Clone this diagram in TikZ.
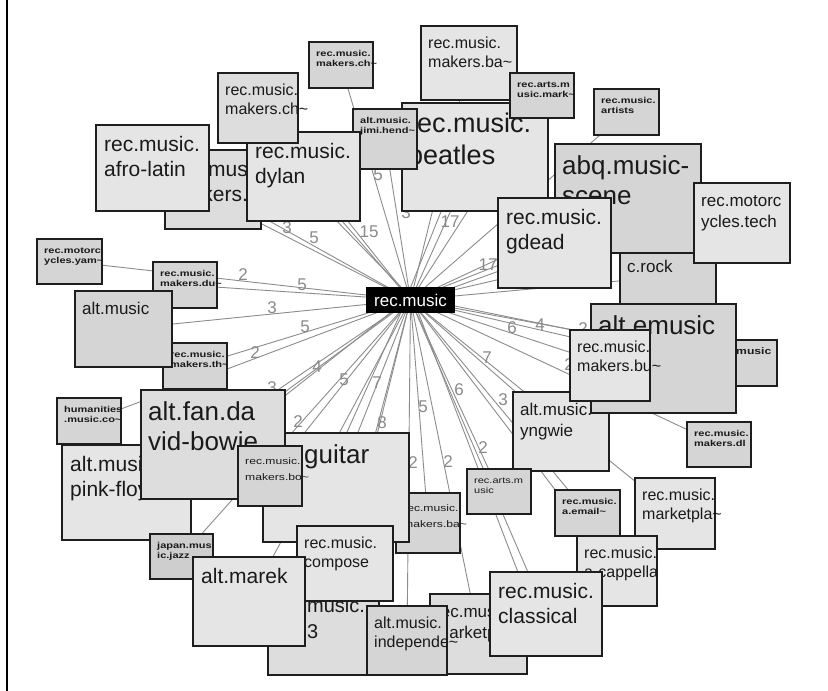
\documentclass[tikz,border=0pt]{standalone}
\usepackage{fontspec}
\setmainfont{Liberation Sans}
\usepackage{graphicx}
\pgfdeclarelayer{bg}
\pgfsetlayers{bg,main}

\definecolor{g1}{HTML}{E5E5E5}
\definecolor{g2}{HTML}{DDDDDD}
\definecolor{g3}{HTML}{D5D5D5}
\definecolor{g4}{HTML}{CECECE}
\definecolor{boxline}{HTML}{1E1E1E}
\definecolor{txt}{HTML}{1A1A1A}
\definecolor{edgec}{HTML}{8C8C8C}
\definecolor{lblc}{HTML}{8A8A8A}

% multi-line labels, first row baseline is the node baseline
\newcommand\lines[1]{\begin{tabular}[t]{@{}l@{}}#1\end{tabular}}
\newcommand\slines[1]{\scalebox{1.28}[1]{\lines{#1}}}
\newcommand\tld{\textasciitilde}

% group box: name, x1, y1, x2, y2, fill, text style, text
\newcommand\grp[8]{%
  \node[gbox, fill=#6, minimum width={#4pt-#2pt}, minimum height={#5pt-#3pt}] (#1) at (#2,#3) {};
  \node[#7] (#1t) at (#1.north west) {#8};}

\begin{document}
\begin{tikzpicture}[x=1pt, y=-1pt,
  gbox/.style={draw=boxline, line width=1.5pt, inner sep=0pt, outer sep=0pt, anchor=north west},
  tbase/.style={anchor=base west, inner sep=0pt, text=txt},
  tXL/.style={tbase, xshift=6pt, yshift=-29pt, font=\fontsize{27}{32}\selectfont},
  tL/.style={tbase, xshift=7pt, yshift=-30pt, font=\fontsize{26}{30}\selectfont},
  tML/.style={tbase, xshift=8pt, yshift=-26pt, font=\fontsize{21}{25}\selectfont},
  tM/.style={tbase, xshift=7pt, yshift=-22pt, font=\fontsize{16}{19.5}\selectfont},
  tMM/.style={tbase, xshift=7pt, yshift=-23pt, font=\fontsize{17}{21}\selectfont},
  tS/.style={tbase, xshift=7pt, yshift=-14pt, font=\fontsize{8.6}{10}\selectfont\bfseries},
  tSS/.style={tbase, xshift=7pt, yshift=-18pt, font=\fontsize{9.5}{16}\selectfont},
  edge/.style={draw=edgec, line width=0.9pt},
  elbl/.style={text=lblc, inner sep=0pt, font=\fontsize{17}{17}\selectfont}]

\useasboundingbox (0,0) rectangle (828,691);

% hub
\node[fill=black, inner sep=0pt, outer sep=0pt, anchor=north west,
      minimum width=89pt, minimum height=26pt, text=white,
      font=\fontsize{17}{20}\selectfont] (c) at (366,287) {rec.music};

% upper left
\grp{mkba1}{165}{150}{261}{229}{g2}{tML}{\lines{rec.music.\\makers.ba\tld}}
\grp{afro}{96}{125}{209}{211}{g1}{tML}{\lines{rec.music.\\afro-latin}}
\grp{beatles}{402}{103}{548}{211}{g1}{tXL}{\lines{rec.music.\\beatles}}
\grp{jimi}{353}{109}{417}{169}{g3}{tS}{\slines{alt.music.\\jimi.hend\tld}}
\grp{dylan}{247}{132}{360}{221}{g1}{tML}{\lines{rec.music.\\dylan}}
\grp{mkch2}{218}{73}{298}{143}{g2}{tM}{\lines{rec.music.\\makers.ch\tld}}
\grp{mkch1}{309}{42}{373}{88}{g3}{tS}{\slines{rec.music.\\makers.ch\tld}}
\grp{mkba2}{421}{26}{517}{100}{g1}{tM}{\lines{rec.music.\\makers.ba\tld}}
\grp{mark}{510}{73}{574}{118}{g3}{tS}{\slines{rec.arts.m\\usic.mark\tld}}
\grp{artists}{594}{89}{659}{135}{g3}{tS}{\slines{rec.music.\\artists}}

% upper right
\grp{crock}{620}{249}{716}{304}{g3}{tMM}{c.rock}
\grp{abq}{555}{144}{701}{253}{g3}{tL}{\lines{abq.music-\\scene}}
\grp{mctech}{694}{183}{790}{263}{g1}{tMM}{\lines{rec.motorc\\ycles.tech}}
\grp{gdead}{498}{198}{611}{288}{g1}{tML}{\lines{rec.music.\\gdead}}

% right
\grp{musicbox}{729}{340}{777}{386}{g3}{tS, font=\fontsize{9.5}{10}\selectfont\bfseries}{\slines{music}}
\grp{yngwie}{513}{392}{609}{471}{g1}{tMM}{\lines{alt.music.\\yngwie}}
\grp{emusic}{591}{304}{736}{413}{g3}{tL}{alt.emusic}
\grp{mkbu}{570}{330}{650}{401}{g1}{tM}{\lines{rec.music.\\makers.bu\tld}}
\grp{mkdl}{687}{422}{751}{467}{g3}{tS}{\slines{rec.music.\\makers.dl}}

% left
\grp{yam}{37}{239}{102}{284}{g3}{tS}{\slines{rec.motorc\\ycles.yam\tld}}
\grp{mkdu}{153}{262}{217}{308}{g3}{tS}{\slines{rec.music.\\makers.du\tld}}
\grp{mkth}{163}{343}{227}{389}{g3}{tS}{\slines{rec.music.\\makers.th\tld}}
\grp{altmusic}{75}{291}{172}{367}{g3}{tMM}{alt.music}
\grp{human}{57}{398}{121}{444}{g3}{tS}{\slines{humanities\\.music.co\tld}}

% lower left
\grp{pink}{62}{445}{191}{540}{g1}{tML}{\lines{alt.music.\\pink-floyd}}
\grp{mkba3}{396}{493}{460}{553}{g3}{tSS}{\slines{rec.music.\\makers.ba\tld}}
\grp{guitar}{263}{433}{409}{542}{g1}{tL, xshift=34pt}{guitar}
\grp{bowie}{141}{390}{285}{499}{g2}{tL}{\lines{alt.fan.da\\vid-bowie}}
\grp{mkbo}{238}{446}{302}{506}{g3}{tSS}{\slines{rec.music.\\makers.bo\tld}}
\grp{japan}{150}{534}{213}{579}{g4}{tS}{\slines{japan.mus\\ic.jazz}}
\grp{mp3}{268}{586}{379}{675}{g2}{tML, xshift=31pt, font=\fontsize{20}{26}\selectfont}{\lines{music.\\3}}
\grp{compose}{297}{526}{393}{601}{g1}{tM}{\lines{rec.music.\\compose}}
\grp{marek}{193}{557}{305}{646}{g1}{tML}{alt.marek}

% lower right
\grp{market}{430}{594}{527}{674}{g2}{tMM, xshift=-2pt}{\lines{rec.music.\\marketpla\tld}}
\grp{indep}{367}{606}{447}{675}{g3}{tM}{\lines{alt.music.\\independe\tld}}
\grp{artsmusic}{467}{469}{531}{514}{g3}{tS, font=\fontsize{8.6}{10}\selectfont}{\slines{rec.arts.m\\usic}}
\grp{email}{555}{490}{620}{536}{g3}{tS}{\slines{rec.music.\\a.email\tld}}
\grp{mktpla}{635}{478}{715}{549}{g1}{tM}{\lines{rec.music.\\marketpla\tld}}
\grp{acap}{577}{536}{657}{606}{g1}{tM}{\lines{rec.music.\\a-cappella}}
\grp{classical}{490}{572}{602}{656}{g1}{tML}{\lines{rec.music.\\classical}}

\begin{pgfonlayer}{bg}
  \fill[white] (0,0) rectangle (828,691);
  \draw[line width=1.5pt, black] (7,0) -- (7,691);
  % spokes from the hub to every group
  \foreach \t in {mkba1,afro,beatles,jimi,dylan,mkch2,mkch1,mkba2,mark,artists,
                  crock,abq,mctech,gdead,musicbox,yngwie,emusic,mkbu,mkdl,
                  yam,mkdu,mkth,altmusic,human,pink,mkba3,guitar,bowie,mkbo,
                  japan,mp3,compose,marek,market,indep,artsmusic,email,mktpla,
                  acap,classical}
    \draw[edge] (c.center) -- (\t.center);
  % return links
  \draw[edge] ([xshift=-5pt]c.center) -- ([xshift=-12pt]beatles.center);
  \draw[edge] ([yshift=-3pt]c.center) -- ([yshift=-8pt]gdead.center);
  \draw[edge] ([yshift=3pt]c.center) -- ([yshift=10pt]emusic.center);
  \draw[edge] ([xshift=-4pt]c.center) -- ([xshift=-14pt]guitar.center);
  \draw[edge] ([xshift=-4pt]c.center) -- ([xshift=10pt]bowie.center);
  \draw[edge] ([xshift=3pt]c.center) -- ([xshift=-12pt]classical.center);
  \draw[edge] ([xshift=3pt]c.center) -- ([xshift=-10pt]dylan.center);
  % edge weights
  \node[elbl] (w1)  at (243,275) {2};
  \node[elbl] (w2)  at (302,285) {5};
  \node[elbl] (w3)  at (272,308) {3};
  \node[elbl] (w4)  at (305,327) {5};
  \node[elbl] (w5)  at (255,353) {2};
  \node[elbl] (w6)  at (272,388) {3};
  \node[elbl] (w7)  at (317,367) {4};
  \node[elbl] (w8)  at (344,380) {5};
  \node[elbl] (w9)  at (377,383) {7};
  \node[elbl] (w10) at (298,422) {2};
  \node[elbl] (w11) at (382,423) {8};
  \node[elbl] (w12) at (423,407) {5};
  \node[elbl] (w13) at (413,463) {2};
  \node[elbl] (w14) at (448,462) {2};
  \node[elbl] (w15) at (459,390) {6};
  \node[elbl] (w16) at (483,448) {2};
  \node[elbl] (w17) at (503,400) {3};
  \node[elbl] (w18) at (487,358) {7};
  \node[elbl] (w19) at (512,328) {6};
  \node[elbl] (w20) at (540,325) {4};
  \node[elbl] (w21) at (583,329) {2};
  \node[elbl] (w22) at (569,365) {2};
  \node[elbl] (w23) at (488,265) {17};
  \node[elbl] (w24) at (450,222) {17};
  \node[elbl] (w25) at (406,213) {3};
  \node[elbl] (w26) at (378,175) {5};
  \node[elbl] (w27) at (369,232) {15};
  \node[elbl] (w28) at (314,238) {5};
  \node[elbl] (w29) at (287,228) {3};
\end{pgfonlayer}
\end{tikzpicture}
\end{document}
